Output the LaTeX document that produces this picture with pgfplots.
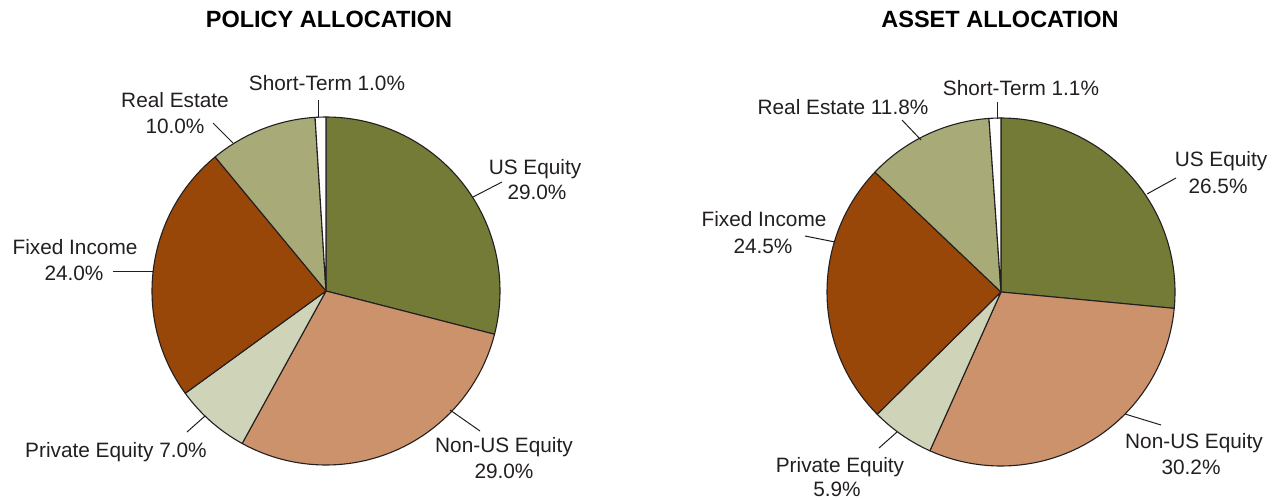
\documentclass[border=0pt]{standalone}
\usepackage{pgfplots}
\usepackage{pgfplotstable}
\pgfplotsset{compat=1.18}
\usepackage{fontspec}
\setmainfont{Liberation Sans}
\definecolor{cUS}{HTML}{737B36}
\definecolor{cNonUS}{HTML}{CC926C}
\definecolor{cPE}{HTML}{CFD3B7}
\definecolor{cFI}{HTML}{984708}
\definecolor{cRE}{HTML}{A8AA78}
\definecolor{cST}{HTML}{FFFFFF}
\definecolor{edgecol}{HTML}{231F20}
\definecolor{txt}{HTML}{231F20}

% slice values in percent, clockwise from 12 o'clock
\pgfplotstableread{
value col
29.0 cUS
29.0 cNonUS
7.0 cPE
24.0 cFI
10.0 cRE
1.0 cST
}\policytable
\pgfplotstableread{
value col
26.5 cUS
30.2 cNonUS
5.9 cPE
24.5 cFI
11.8 cRE
1.1 cST
}\assettable

\newcommand\drawpie[3]{% table, centre x, centre y
  \gdef\cumangle{90}%
  \pgfplotstableforeachcolumnelement{value}\of#1\as\v{%
    \pgfplotstablegetelem{\pgfplotstablerow}{col}\of#1%
    \let\slicecol\pgfplotsretval
    \pgfmathsetmacro\endangle{\cumangle-3.6*\v}%
    \edef\temp{\noexpand\draw[edgecol,line width=1.1pt,line join=round,fill=\slicecol]
      (axis cs:#2,#3) -- ++(\cumangle:174pt)
      arc[start angle=\cumangle,end angle=\endangle,radius=174pt] -- cycle;}%
    \temp
    \global\let\cumangle\endangle
  }%
}

\tikzset{
  lab/.style={anchor=base,inner sep=0pt,text=txt,font=\fontsize{20.8}{25}\selectfont},
  lead/.style={edgecol,line width=1pt}}

\begin{document}
\begin{tikzpicture}
\useasboundingbox (0,0) rectangle (1274pt,500pt);
\begin{axis}[at={(0,0)},anchor=south west,width=1274pt,height=500pt,
  scale only axis,xmin=0,xmax=1274,ymin=0,ymax=500,y dir=reverse,
  hide axis,clip=false]
\drawpie{\policytable}{326}{291}
\drawpie{\assettable}{1001}{292}

\node[anchor=base,inner sep=0pt,font=\fontsize{23.5}{28}\selectfont\bfseries] at (axis cs:329,28) {POLICY ALLOCATION};
\node[anchor=base,inner sep=0pt,font=\fontsize{23.5}{28}\selectfont\bfseries] at (axis cs:1000,28) {ASSET ALLOCATION};

% policy labels
\node[lab] at (axis cs:327,91) {Short-Term 1.0\%};
\draw[lead] (axis cs:318,100) -- (axis cs:318,117);
\node[lab] at (axis cs:175,108) {Real Estate};
\node[lab] at (axis cs:175,134) {10.0\%};
\draw[lead] (axis cs:213,123) -- (axis cs:233,143);
\node[lab] at (axis cs:535,174) {US Equity};
\node[lab] at (axis cs:537,199) {29.0\%};
\draw[lead] (axis cs:473,197) -- (axis cs:502,182);
\node[lab] at (axis cs:75,254) {Fixed Income};
\node[lab] at (axis cs:74,280) {24.0\%};
\draw[lead] (axis cs:113,271) -- (axis cs:153,271);
\node[lab] at (axis cs:116,457) {Private Equity 7.0\%};
\draw[lead] (axis cs:187,432) -- (axis cs:205,416);
\node[lab] at (axis cs:504,452) {Non-US Equity};
\node[lab] at (axis cs:504,478) {29.0\%};
\draw[lead] (axis cs:450,410) -- (axis cs:480,431);

% asset labels
\node[lab] at (axis cs:1021,96) {Short-Term 1.1\%};
\draw[lead] (axis cs:997,102) -- (axis cs:997,119);
\node[lab] at (axis cs:843,115) {Real Estate 11.8\%};
\draw[lead] (axis cs:902,120) -- (axis cs:921,140);
\node[lab] at (axis cs:1221,166) {US Equity};
\node[lab] at (axis cs:1218,193) {26.5\%};
\draw[lead] (axis cs:1147,194) -- (axis cs:1176,178);
\node[lab] at (axis cs:764,226) {Fixed Income};
\node[lab] at (axis cs:763,253) {24.5\%};
\draw[lead] (axis cs:805,236) -- (axis cs:835,242);
\node[lab] at (axis cs:840,472) {Private Equity};
\node[lab] at (axis cs:837,496) {5.9\%};
\draw[lead] (axis cs:879,448) -- (axis cs:897,432);
\node[lab] at (axis cs:1194,448) {Non-US Equity};
\node[lab] at (axis cs:1191,474) {30.2\%};
\draw[lead] (axis cs:1125,414) -- (axis cs:1161,425);
\end{axis}
\end{tikzpicture}
\end{document}
